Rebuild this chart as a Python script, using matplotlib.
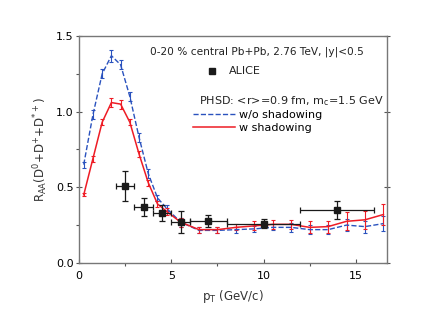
import matplotlib.pyplot as plt
from matplotlib.lines import Line2D
from matplotlib.ticker import FormatStrFormatter

# PHSD w/o shadowing
pt_model = [0.25, 0.75, 1.25, 1.75, 2.25, 2.75, 3.25, 3.75, 4.25, 4.75, 5.5,
            6.5, 7.5, 8.5, 9.5, 10.5, 11.5, 12.5, 13.5, 14.5, 15.5, 16.5]
raa_noshad = [0.65, 0.98, 1.25, 1.37, 1.31, 1.10, 0.83, 0.59, 0.43, 0.36, 0.27,
              0.215, 0.215, 0.22, 0.225, 0.235, 0.235, 0.22, 0.22, 0.25, 0.24, 0.26]
err_noshad = [0.02, 0.03, 0.03, 0.04, 0.03, 0.03, 0.03, 0.03, 0.02, 0.02, 0.03,
              0.02, 0.02, 0.02, 0.02, 0.02, 0.03, 0.03, 0.03, 0.04, 0.04, 0.05]

# PHSD w shadowing
raa_shad = [0.45, 0.69, 0.93, 1.06, 1.05, 0.93, 0.72, 0.53, 0.39, 0.34, 0.27,
            0.22, 0.22, 0.235, 0.245, 0.255, 0.255, 0.235, 0.24, 0.275, 0.285, 0.32]
err_shad = [0.01, 0.02, 0.02, 0.03, 0.03, 0.02, 0.02, 0.02, 0.02, 0.02, 0.03,
            0.02, 0.02, 0.02, 0.03, 0.03, 0.03, 0.04, 0.04, 0.06, 0.06, 0.07]

# ALICE data
pt_alice = [2.5, 3.5, 4.5, 5.5, 7.0, 10.0, 14.0]
raa_alice = [0.51, 0.37, 0.33, 0.27, 0.28, 0.26, 0.35]
xerr_alice = [0.5, 0.5, 0.5, 0.5, 1.0, 2.0, 2.0]
yerr_alice = [0.10, 0.06, 0.05, 0.07, 0.04, 0.03, 0.06]

blue = '#2a52be'
red = '#ee1c25'

fig = plt.figure(figsize=(4.47, 3.16), dpi=100)
ax = fig.add_axes([0.177, 0.168, 0.689, 0.718])

ax.errorbar(pt_model, raa_noshad, yerr=err_noshad, color=blue, ls='--', lw=1.0,
            elinewidth=0.8, capsize=1.5, capthick=0.8)
ax.errorbar(pt_model, raa_shad, yerr=err_shad, color=red, ls='-', lw=1.1,
            elinewidth=0.8, capsize=1.5, capthick=0.8)
ax.errorbar(pt_alice, raa_alice, xerr=xerr_alice, yerr=yerr_alice, fmt='s',
            color='#1a1a1a', ms=4.5, elinewidth=0.9, capsize=2, capthick=0.9,
            zorder=5)

ax.set_xlim(0, 16.7)
ax.set_ylim(0, 1.5)
ax.set_xticks([0, 5, 10, 15])
ax.set_xticks([2.5, 7.5, 12.5], minor=True)
ax.set_yticks([0.0, 0.5, 1.0, 1.5])
ax.set_yticks([0.25, 0.75, 1.25], minor=True)
ax.yaxis.set_major_formatter(FormatStrFormatter('%.1f'))

for s in ax.spines.values():
    s.set_color('#777777')
    s.set_linewidth(1.0)
ax.tick_params(axis='x', direction='in', length=3, width=0.8, color='#555555',
               labelsize=8, pad=6)
ax.tick_params(axis='y', direction='inout', length=4, width=0.8, color='#555555',
               labelsize=8, right=True, pad=2)
ax.tick_params(which='minor', length=2, width=0.8, color='#555555')

ax.set_xlabel('p$_\\mathregular{T}$ (GeV/c)', fontsize=8.5, color='#333333',
              labelpad=5)
ax.set_ylabel('R$_\\mathregular{AA}$(D$^\\mathregular{0}$+D$^\\mathregular{+}$+D$^\\mathregular{*+}$)',
              fontsize=8.5, color='#333333', labelpad=4)

ax.text(0.23, 0.93, '0-20 % central Pb+Pb, 2.76 TeV, |y|<0.5',
        transform=ax.transAxes, fontsize=7.6, va='center', color='#222222')
ax.plot([0.43], [0.846], 's', color='#1a1a1a', ms=4.5, transform=ax.transAxes)
ax.text(0.485, 0.846, 'ALICE', transform=ax.transAxes, fontsize=8,
        va='center', color='#222222')
ax.text(0.39, 0.714, 'PHSD: <r>=0.9 fm, m$_\\mathregular{c}$=1.5 GeV',
        transform=ax.transAxes, fontsize=8, va='center', color='#222222')

handles = [Line2D([], [], color=blue, ls='--', lw=1.0),
           Line2D([], [], color=red, ls='-', lw=1.1)]
ax.legend(handles, ['w/o shadowing', 'w shadowing'], loc='upper left',
          bbox_to_anchor=(0.37, 0.675), frameon=False, fontsize=8,
          handlelength=3.8, handletextpad=0.3, labelspacing=0.25,
          borderpad=0, borderaxespad=0)

fig.savefig('out.png', dpi=100)
